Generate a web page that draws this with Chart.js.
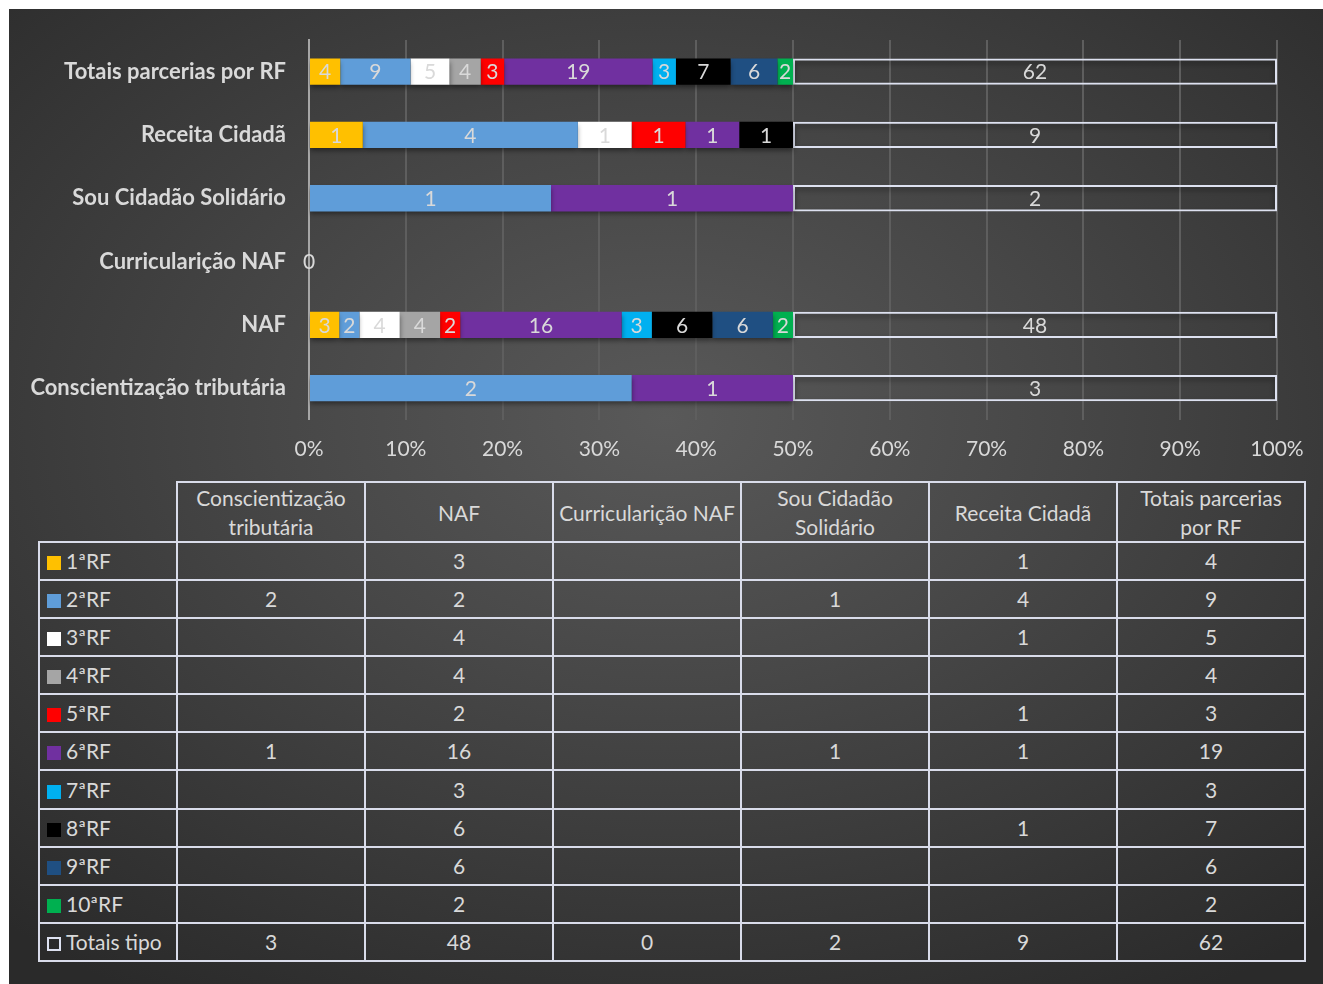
<!DOCTYPE html>
<html>
<head>
<meta charset="utf-8">
<script src="https://cdn.jsdelivr.net/npm/chart.js@4.4.0/dist/chart.umd.min.js"></script>
<style>
  body { margin: 0; background: #fff; width: 1323px; height: 984px; overflow: hidden; font-family: Lato, "Open Sans", sans-serif; }
  #panel {
    position: absolute; left: 9px; top: 9px; width: 1314px; height: 975px;
    background: radial-gradient(ellipse 75% 70% at 50% 42%, #595959 0%, #474747 40%, #2a2a2a 100%);
  }
  #chartBox { position: absolute; left: 0; top: 0; width: 1323px; height: 479px; }
  #dataTable {
    position: absolute; left: 38px; top: 481px; width: 1266px; height: 481px;
    border-collapse: collapse; table-layout: fixed; color: #d9d9d9; font-size: 21px;
  }
  #dataTable td { border: 2px solid #d9dcea; text-align: center; padding: 0; line-height: 28px; }
  #dataTable tr.head td { line-height: 29px; }
  #dataTable td.key { text-align: left; padding-left: 7px; white-space: nowrap; }
  #dataTable td.corner { border-top: none; border-left: none; }
  .sw { display: inline-block; width: 14px; height: 14px; margin-right: 5px; vertical-align: -1px; box-sizing: border-box; }
</style>
</head>
<body>
<div id="panel"></div>
<div id="chartBox"><canvas id="chart"></canvas></div>
<table id="dataTable"></table>
<script>
// categories in table order (chart shows them bottom to top)
const categories = ['Conscientização tributária', 'NAF', 'Curricularição NAF', 'Sou Cidadão Solidário', 'Receita Cidadã', 'Totais parcerias por RF'];
const tableHeaders = ['Conscientização<br>tributária', 'NAF', 'Curricularição NAF', 'Sou Cidadão<br>Solidário', 'Receita Cidadã', 'Totais parcerias<br>por RF'];

const seriesNames = ['1ªRF', '2ªRF', '3ªRF', '4ªRF', '5ªRF', '6ªRF', '7ªRF', '8ªRF', '9ªRF', '10ªRF', 'Totais tipo'];
const seriesColors = ['#FFC000', '#5f9dd9', '#FFFFFF', '#A5A5A5', '#FF0000', '#7030A0', '#00B0F0', '#000000', '#1f4f82', '#00B050', 'rgba(0,0,0,0)'];

const rf1 = [null, 3, null, null, 1, 4];
const rf2 = [2, 2, null, 1, 4, 9];
const rf3 = [null, 4, null, null, 1, 5];
const rf4 = [null, 4, null, null, null, 4];
const rf5 = [null, 2, null, null, 1, 3];
const rf6 = [1, 16, null, 1, 1, 19];
const rf7 = [null, 3, null, null, null, 3];
const rf8 = [null, 6, null, null, 1, 7];
const rf9 = [null, 6, null, null, null, 6];
const rf10 = [null, 2, null, null, null, 2];
const totaisTipo = [3, 48, 0, 2, 9, 62];

const xTicks = [0, 10, 20, 30, 40, 50, 60, 70, 80, 90, 100];

const allSeries = [rf1, rf2, rf3, rf4, rf5, rf6, rf7, rf8, rf9, rf10, totaisTipo];

// 100% stacked: share of each value within its category
const sums = categories.map((c, i) => allSeries.reduce((s, arr) => s + (arr[i] || 0), 0));
const toPct = arr => arr.map((v, i) => v === null ? null : (sums[i] ? v / sums[i] * 100 : 0));

const datasets = allSeries.map((arr, k) => {
  const isTotal = k === allSeries.length - 1;
  return {
    label: seriesNames[k],
    data: toPct(arr),
    raw: arr,
    backgroundColor: seriesColors[k],
    borderColor: isTotal ? '#dde1f0' : seriesColors[k],
    borderWidth: isTotal ? 2 : 0,
    borderSkipped: false,
    barPercentage: 0.83,
    categoryPercentage: 0.5
  };
});

const shadowPlugin = {
  id: 'barShadow',
  beforeDatasetsDraw(chart) {
    const ctx = chart.ctx;
    ctx.save();
    ctx.shadowColor = 'rgba(0,0,0,0.45)';
    ctx.shadowBlur = 5;
    ctx.shadowOffsetY = 3;
  },
  afterDatasetsDraw(chart) {
    chart.ctx.restore();
  }
};

const valueLabels = {
  id: 'valueLabels',
  afterDatasetsDraw(chart) {
    const ctx = chart.ctx;
    ctx.save();
    ctx.font = '21px Lato, "Open Sans", sans-serif';
    ctx.fillStyle = '#d9d9d9';
    ctx.textAlign = 'center';
    ctx.textBaseline = 'middle';
    chart.data.datasets.forEach((ds, di) => {
      const meta = chart.getDatasetMeta(di);
      meta.data.forEach((bar, i) => {
        const v = ds.raw[i];
        if (v === null) return;
        const p = bar.getProps(['x', 'base', 'y'], true);
        ctx.fillText(String(v), (p.x + p.base) / 2, p.y + 1);
      });
    });
    ctx.restore();
  }
};

new Chart(document.getElementById('chart'), {
  type: 'bar',
  data: { labels: categories, datasets: datasets },
  plugins: [shadowPlugin, valueLabels],
  options: {
    indexAxis: 'y',
    responsive: true,
    maintainAspectRatio: false,
    animation: false,
    layout: { padding: { top: 40, right: 46, left: 0, bottom: 0 } },
    plugins: { legend: { display: false }, tooltip: { enabled: false } },
    scales: {
      x: {
        stacked: true,
        min: 0,
        max: 100,
        afterBuildTicks: scale => { scale.ticks = xTicks.map(v => ({ value: v })); },
        ticks: { color: '#d9d9d9', font: { size: 21, family: 'Lato, "Open Sans", sans-serif' }, padding: 17, callback: v => v + '%' },
        grid: { color: '#5e5e5e', lineWidth: 2, drawTicks: false },
        border: { display: false }
      },
      y: {
        stacked: true,
        reverse: true,
        afterFit: scale => { scale.width = 309; },
        ticks: { color: '#d9d9d9', font: { size: 22, weight: 'bold', family: 'Lato, "Open Sans", sans-serif' }, padding: 23 },
        grid: { display: false, drawTicks: false },
        border: { display: true, color: '#a6a6a6', width: 2 }
      }
    }
  }
});

// data table under the chart
const table = document.getElementById('dataTable');
let html = '<colgroup><col style="width:138px">' + categories.map(() => '<col style="width:188px">').join('') + '</colgroup>';
html += '<tr class="head" style="height:59px"><td class="corner"></td>' + tableHeaders.map(h => '<td>' + h + '</td>').join('') + '</tr>';
allSeries.forEach((arr, k) => {
  const isTotal = k === allSeries.length - 1;
  const sw = isTotal
    ? '<span class="sw" style="border:2px solid #dde1f0"></span>'
    : '<span class="sw" style="background:' + seriesColors[k] + '"></span>';
  html += '<tr><td class="key">' + sw + seriesNames[k] + '</td>' +
    arr.map(v => '<td>' + (v === null ? '' : v) + '</td>').join('') + '</tr>';
});
table.innerHTML = html;
</script>
</body>
</html>
